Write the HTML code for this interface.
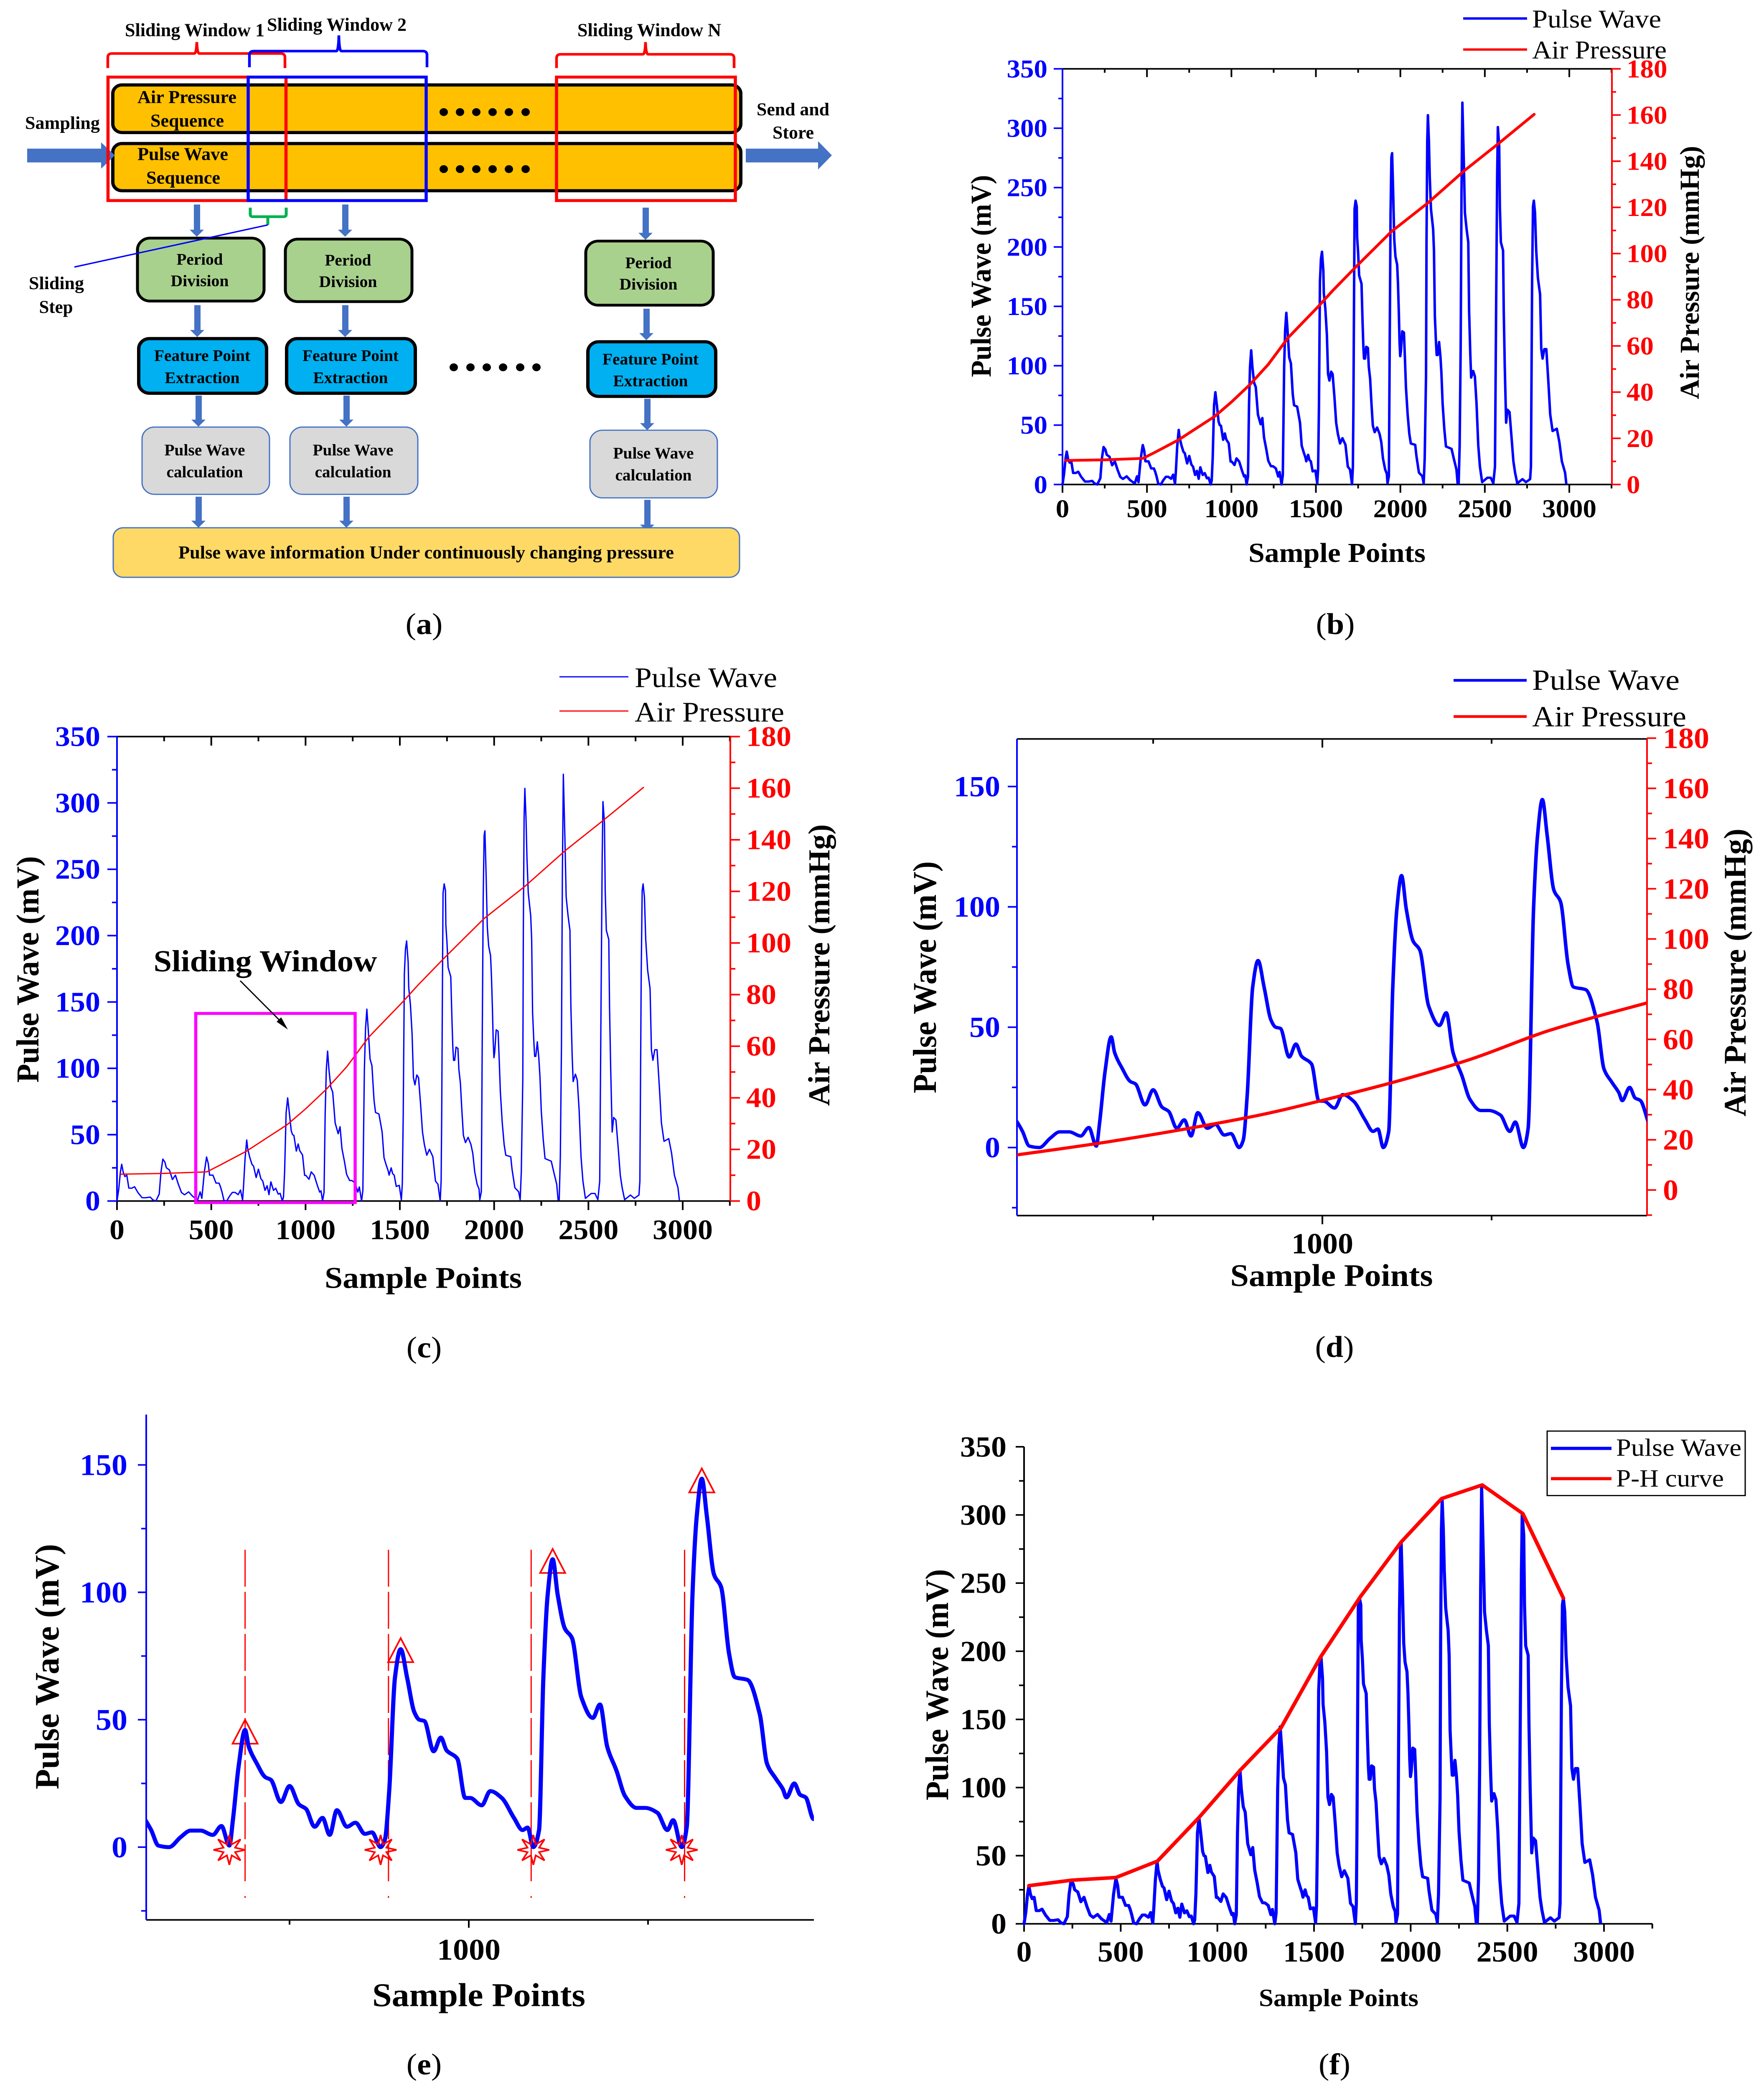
<!DOCTYPE html>
<html lang="en">
<head>
<meta charset="utf-8">
<title>Pulse wave sliding window figure</title>
<style>
html,body{margin:0;padding:0;background:#fff;width:100%;height:100%;overflow:hidden;}
svg{display:block;position:absolute;left:0;top:0;width:100vw;height:100vh;overflow:hidden;}
text{font-family:"Liberation Serif","Times New Roman",serif;}
.b{font-weight:bold;}
.t{font-weight:bold;fill:#000;}
</style>
</head>
<body>
<svg id="figure" xmlns="http://www.w3.org/2000/svg" width="4222" height="5312" viewBox="0 0 4222 5312" preserveAspectRatio="none">
<rect x="0" y="0" width="4222" height="5312" fill="#fff"/>
<defs>
<clipPath id="clip-d"><rect x="2434" y="1879" width="1508" height="1212"/></clipPath>
<clipPath id="clip-e"><rect x="350" y="3597" width="1598" height="1285"/></clipPath>
</defs>

<!-- PANEL A -->
<g id="panel-a">
  <text class="t" x="299" y="92" font-size="47" textLength="334" lengthAdjust="spacingAndGlyphs">Sliding Window 1</text>
  <text class="t" x="639" y="78" font-size="47" textLength="334" lengthAdjust="spacingAndGlyphs">Sliding Window 2</text>
  <text class="t" x="1382" y="92" font-size="47" textLength="344" lengthAdjust="spacingAndGlyphs">Sliding Window N</text>
  <path d="M258 173V146Q258 136 268 136H465Q470 136 471 107Q472 136 477 136H672Q682 136 682 146V173" fill="none" stroke="#f00" stroke-width="6.5"/>
  <path d="M597 171V140Q597 130 607 130H805Q810 130 811 90Q812 130 817 130H1012Q1022 130 1022 140V171" fill="none" stroke="#00f" stroke-width="6.5"/>
  <path d="M1332 173V148Q1332 138 1342 138H1539Q1544 138 1545 107Q1546 138 1551 138H1747Q1757 138 1757 148V173" fill="none" stroke="#f00" stroke-width="6.5"/>

  <rect x="270" y="216" width="1503" height="121" rx="22" fill="#FFC000" stroke="#000" stroke-width="8"/>
  <rect x="270" y="365" width="1503" height="120" rx="22" fill="#FFC000" stroke="#000" stroke-width="8"/>
  <text class="t" x="329" y="262" font-size="46" textLength="237" lengthAdjust="spacingAndGlyphs">Air Pressure</text>
  <text class="t" x="360" y="322" font-size="46" textLength="176" lengthAdjust="spacingAndGlyphs">Sequence</text>
  <text class="t" x="329" y="407" font-size="46" textLength="217" lengthAdjust="spacingAndGlyphs">Pulse Wave</text>
  <text class="t" x="350" y="467" font-size="46" textLength="177" lengthAdjust="spacingAndGlyphs">Sequence</text>

  <g fill="#000">
    <circle cx="1062" cy="285" r="10"/><circle cx="1101" cy="285" r="10"/><circle cx="1140" cy="285" r="10"/><circle cx="1179" cy="285" r="10"/><circle cx="1218" cy="285" r="10"/><circle cx="1258" cy="285" r="10"/>
  </g>
  <g fill="#000">
    <circle cx="1062" cy="430" r="10"/><circle cx="1101" cy="430" r="10"/><circle cx="1140" cy="430" r="10"/><circle cx="1179" cy="430" r="10"/><circle cx="1218" cy="430" r="10"/><circle cx="1258" cy="430" r="10"/>
  </g>
  <g fill="#000">
    <circle cx="1086" cy="934" r="10"/><circle cx="1126" cy="934" r="10"/><circle cx="1165" cy="934" r="10"/><circle cx="1204" cy="934" r="10"/><circle cx="1245" cy="934" r="10"/><circle cx="1284" cy="934" r="10"/>
  </g>

  <text class="t" x="60" y="328" font-size="46" textLength="179" lengthAdjust="spacingAndGlyphs">Sampling</text>
  <path d="M65 378H242V362L275 395L242 429V413H65Z" fill="#4472C4"/>
  <text class="t" x="1811" y="293" font-size="46" textLength="174" lengthAdjust="spacingAndGlyphs">Send and</text>
  <text class="t" x="1849" y="352" font-size="46" textLength="99" lengthAdjust="spacingAndGlyphs">Store</text>
  <path d="M1785 378H1958V359L1991 395L1958 431V413H1785Z" fill="#4472C4"/>

  <g fill="#4472C4">
    <path d="M464 520H479V584H488L471 602L454 584H464Z"/>
    <path d="M819 520H834V584H843L826 602L809 584H819Z"/>
    <path d="M1538 528H1553V592H1562L1545 610L1528 592H1538Z"/>
    <path d="M465 776H480V839H489L472 857L455 839H465Z"/>
    <path d="M819 776H834V839H843L826 857L809 839H819Z"/>
    <path d="M1540 785H1555V847H1564L1547 865L1530 847H1540Z"/>
    <path d="M468 1006H483V1067H492L475 1085L458 1067H468Z"/>
    <path d="M822 1006H837V1067H846L829 1085L812 1067H822Z"/>
    <path d="M1542 1014H1557V1076H1566L1549 1094L1532 1076H1542Z"/>
    <path d="M468 1263H483V1324H492L475 1342L458 1324H468Z"/>
    <path d="M822 1263H837V1324H846L829 1342L812 1324H822Z"/>
    <path d="M1542 1271H1557V1334H1566L1549 1352L1532 1334H1542Z"/>
  </g>

  <rect x="258.5" y="196" width="426" height="314" fill="none" stroke="#f00" stroke-width="7.5"/>
  <rect x="594" y="196" width="426" height="314" fill="none" stroke="#00f" stroke-width="7.5"/>
  <rect x="1332" y="196" width="428" height="314" fill="none" stroke="#f00" stroke-width="7.5"/>

  <path d="M599 528V545Q599 551 605 551H679Q685 551 685 545V528M641 551V572" fill="none" stroke="#00B050" stroke-width="7"/>

  <g>
    <rect x="329" y="605.5" width="303" height="160" rx="30" fill="#A9D18E" stroke="#000" stroke-width="7"/>
    <text class="t" text-anchor="middle" x="478" y="673" font-size="42" textLength="111" lengthAdjust="spacingAndGlyphs">Period</text>
    <text class="t" text-anchor="middle" x="478" y="728" font-size="42" textLength="139" lengthAdjust="spacingAndGlyphs">Division</text>
  </g>
  <g>
    <rect x="683" y="608" width="303" height="159" rx="30" fill="#A9D18E" stroke="#000" stroke-width="7"/>
    <text class="t" text-anchor="middle" x="833" y="675" font-size="42" textLength="111" lengthAdjust="spacingAndGlyphs">Period</text>
    <text class="t" text-anchor="middle" x="833" y="730" font-size="42" textLength="139" lengthAdjust="spacingAndGlyphs">Division</text>
  </g>
  <g>
    <rect x="1402" y="613" width="305" height="163" rx="30" fill="#A9D18E" stroke="#000" stroke-width="7"/>
    <text class="t" text-anchor="middle" x="1552" y="682" font-size="42" textLength="111" lengthAdjust="spacingAndGlyphs">Period</text>
    <text class="t" text-anchor="middle" x="1552" y="736" font-size="42" textLength="139" lengthAdjust="spacingAndGlyphs">Division</text>
  </g>

  <line x1="641" y1="572" x2="178" y2="679" stroke="#00f" stroke-width="3.5"/>
  <text class="t" text-anchor="middle" x="135" y="735" font-size="46" textLength="132" lengthAdjust="spacingAndGlyphs">Sliding</text>
  <text class="t" text-anchor="middle" x="134" y="796" font-size="46" textLength="81" lengthAdjust="spacingAndGlyphs">Step</text>

  <g>
    <rect x="332" y="861" width="306" height="139" rx="26" fill="#00B0F0" stroke="#000" stroke-width="8"/>
    <text class="t" text-anchor="middle" x="484" y="918" font-size="42" textLength="230" lengthAdjust="spacingAndGlyphs">Feature Point</text>
    <text class="t" text-anchor="middle" x="484" y="974" font-size="42" textLength="179" lengthAdjust="spacingAndGlyphs">Extraction</text>
  </g>
  <g>
    <rect x="686" y="861" width="308" height="139" rx="26" fill="#00B0F0" stroke="#000" stroke-width="8"/>
    <text class="t" text-anchor="middle" x="839" y="918" font-size="42" textLength="230" lengthAdjust="spacingAndGlyphs">Feature Point</text>
    <text class="t" text-anchor="middle" x="839" y="974" font-size="42" textLength="179" lengthAdjust="spacingAndGlyphs">Extraction</text>
  </g>
  <g>
    <rect x="1407" y="869" width="306" height="139" rx="26" fill="#00B0F0" stroke="#000" stroke-width="8"/>
    <text class="t" text-anchor="middle" x="1557" y="927" font-size="42" textLength="230" lengthAdjust="spacingAndGlyphs">Feature Point</text>
    <text class="t" text-anchor="middle" x="1557" y="982" font-size="42" textLength="179" lengthAdjust="spacingAndGlyphs">Extraction</text>
  </g>

  <g>
    <rect x="340" y="1086" width="305" height="171" rx="30" fill="#D9D9D9" stroke="#4472C4" stroke-width="3"/>
    <text class="t" text-anchor="middle" x="490" y="1158" font-size="42" textLength="193" lengthAdjust="spacingAndGlyphs">Pulse Wave</text>
    <text class="t" text-anchor="middle" x="490" y="1214" font-size="42" textLength="183" lengthAdjust="spacingAndGlyphs">calculation</text>
  </g>
  <g>
    <rect x="694" y="1086" width="306" height="171" rx="30" fill="#D9D9D9" stroke="#4472C4" stroke-width="3"/>
    <text class="t" text-anchor="middle" x="845" y="1158" font-size="42" textLength="193" lengthAdjust="spacingAndGlyphs">Pulse Wave</text>
    <text class="t" text-anchor="middle" x="845" y="1214" font-size="42" textLength="183" lengthAdjust="spacingAndGlyphs">calculation</text>
  </g>
  <g>
    <rect x="1412" y="1094" width="305" height="172" rx="30" fill="#D9D9D9" stroke="#4472C4" stroke-width="3"/>
    <text class="t" text-anchor="middle" x="1564" y="1166" font-size="42" textLength="193" lengthAdjust="spacingAndGlyphs">Pulse Wave</text>
    <text class="t" text-anchor="middle" x="1564" y="1222" font-size="42" textLength="183" lengthAdjust="spacingAndGlyphs">calculation</text>
  </g>

  <g>
    <rect x="271" y="1342" width="1499" height="126" rx="24" fill="#FFD966" stroke="#4472C4" stroke-width="3"/>
    <text class="t" text-anchor="middle" x="1020" y="1420" font-size="46" textLength="1186" lengthAdjust="spacingAndGlyphs">Pulse wave information Under continuously changing pressure</text>
  </g>
  <text text-anchor="middle" x="1015" y="1612" font-size="76">(<tspan class="b">a</tspan>)</text>
</g>

<!-- PANEL B -->
<g id="panel-b">
  <text class="t" transform="translate(2371 702) rotate(-90)" text-anchor="middle" font-size="69" textLength="514" lengthAdjust="spacingAndGlyphs">Pulse Wave (mV)</text>
  <text class="t" transform="translate(4066 693) rotate(-90)" text-anchor="middle" font-size="66" textLength="644" lengthAdjust="spacingAndGlyphs">Air Pressure (mmHg)</text>
  <text class="t" x="3200" y="1429" text-anchor="middle" font-size="70" textLength="424" lengthAdjust="spacingAndGlyphs">Sample Points</text>
  <line x1="3502" y1="47" x2="3655" y2="47" stroke="#00f" stroke-width="6"/>
  <text x="3667" y="70" font-size="65" textLength="309" lengthAdjust="spacingAndGlyphs">Pulse Wave</text>
  <line x1="3502" y1="126" x2="3655" y2="126" stroke="#f00" stroke-width="6"/>
  <text x="3667" y="149" font-size="65" textLength="322" lengthAdjust="spacingAndGlyphs">Air Pressure</text>
  <text text-anchor="middle" x="3196" y="1612" font-size="76">(<tspan class="b">b</tspan>)</text>
</g>

<!-- PANEL C -->
<g id="panel-c">
  <text class="t" transform="translate(92 2465) rotate(-90)" text-anchor="middle" font-size="76" textLength="576" lengthAdjust="spacingAndGlyphs">Pulse Wave (mV)</text>
  <text class="t" transform="translate(1985 2454) rotate(-90)" text-anchor="middle" font-size="73" textLength="716" lengthAdjust="spacingAndGlyphs">Air Pressure (mmHg)</text>
  <text class="t" x="1013" y="3275" text-anchor="middle" font-size="77" textLength="472" lengthAdjust="spacingAndGlyphs">Sample Points</text>
  <line x1="1339" y1="1721" x2="1504" y2="1721" stroke="#00f" stroke-width="3"/>
  <text x="1519" y="1747" font-size="72" textLength="341" lengthAdjust="spacingAndGlyphs">Pulse Wave</text>
  <line x1="1339" y1="1808" x2="1504" y2="1808" stroke="#f00" stroke-width="3"/>
  <text x="1519" y="1835" font-size="72" textLength="358" lengthAdjust="spacingAndGlyphs">Air Pressure</text>
  <text text-anchor="middle" x="1015" y="3452" font-size="76">(<tspan class="b">c</tspan>)</text>
</g>

<!-- PANEL D -->
<g id="panel-d">
  <text class="t" transform="translate(2240 2485) rotate(-90)" text-anchor="middle" font-size="79" textLength="590" lengthAdjust="spacingAndGlyphs">Pulse Wave (mV)</text>
  <text class="t" transform="translate(4178 2473) rotate(-90)" text-anchor="middle" font-size="75" textLength="732" lengthAdjust="spacingAndGlyphs">Air Pressure (mmHg)</text>
  <text class="t" x="3187" y="3270" text-anchor="middle" font-size="80" textLength="485" lengthAdjust="spacingAndGlyphs">Sample Points</text>
  <line x1="3479" y1="1730" x2="3654" y2="1730" stroke="#00f" stroke-width="7"/>
  <text x="3667" y="1754" font-size="74" textLength="353" lengthAdjust="spacingAndGlyphs">Pulse Wave</text>
  <line x1="3479" y1="1822" x2="3654" y2="1822" stroke="#f00" stroke-width="7"/>
  <text x="3667" y="1847" font-size="74" textLength="369" lengthAdjust="spacingAndGlyphs">Air Pressure</text>
  <text text-anchor="middle" x="3194" y="3450" font-size="76">(<tspan class="b">d</tspan>)</text>
</g>

<!-- PANEL E -->
<g id="panel-e">
  <text class="t" transform="translate(140 4238) rotate(-90)" text-anchor="middle" font-size="82" textLength="624" lengthAdjust="spacingAndGlyphs">Pulse Wave (mV)</text>
  <text class="t" x="1146" y="5101" text-anchor="middle" font-size="84" textLength="510" lengthAdjust="spacingAndGlyphs">Sample Points</text>
  <text text-anchor="middle" x="1015" y="5275" font-size="76">(<tspan class="b">e</tspan>)</text>
</g>

<!-- PANEL F -->
<g id="panel-f">
  <text class="t" transform="translate(2269 4284) rotate(-90)" text-anchor="middle" font-size="78" textLength="588" lengthAdjust="spacingAndGlyphs">Pulse Wave (mV)</text>
  <text class="t" x="3204" y="5101" text-anchor="middle" font-size="63" textLength="382" lengthAdjust="spacingAndGlyphs">Sample Points</text>
  <rect x="3703" y="3639" width="474" height="164" fill="#fff" stroke="#000" stroke-width="3"/>
  <line x1="3712" y1="3683" x2="3857" y2="3683" stroke="#00f" stroke-width="8"/>
  <text x="3868" y="3702" font-size="63" textLength="300" lengthAdjust="spacingAndGlyphs">Pulse Wave</text>
  <line x1="3712" y1="3760" x2="3857" y2="3760" stroke="#f00" stroke-width="8"/>
  <text x="3868" y="3780" font-size="63" textLength="258" lengthAdjust="spacingAndGlyphs">P-H curve</text>
  <text text-anchor="middle" x="3194" y="5275" font-size="76">(<tspan class="b">f</tspan>)</text>
</g>
</svg>

<script>
// ---- data ----
const pulseSamples = [
0,9,18,25,33,42,52,63,79,93,111,133,154,176,190,206,213,224,233,243,254,262,278,294,310,326,342,358,380,401,428,441,450,463,475,484,491,509,525,541,
549,557,567,582,598,612,626,643,655,666,671,679,688,693,704,716,724,738,750,763,773,785,796,806,816,830,842,855,865,877,883,889,
897,905,914,924,931,938,951,961,969,984,995,1002,1018,1030,1046,1063,1075,1082,1090,1098,
1104,1110,1117,1124,1134,1144,1157,1173,1183,1193,1206,1218,1234,1246,1263,1277,1285,1297,1304,
1312,1318,1325,1332,1342,1352,1363,1371,1389,1406,1416,1428,1438,1443,1454,1462,1470,1481,1497,1508,
1513,1518,1524,1530,1536,1544,1547,1556,1565,1572,1580,1590,1599,1610,1620,1630,1643,1657,1675,1689,1702,1714,
1719,1722,1726,1729,1735,1742,1744,1750,1756,1770,1776,1781,1785,1791,1798,1808,1813,1821,1829,1837,1848,1862,1877,1887,1897,1910,1920,1924,1932,
1937,1942,1947,1951,1957,1964,1971,1981,1986,1991,1995,1999,2003,2011,2021,2027,2033,2043,2053,2062,2088,2095,2110,2130,2138,
2144,2152,2155,2159,2163,2169,2174,2181,2194,2199,2204,2211,2215,2221,2229,2237,2243,2250,2260,2270,2303,2316,2332,2339,2345,
2351,2357,2362,2367,2375,2382,2392,2402,2407,2414,2419,2431,2441,2451,2461,2471,2484,2515,2535,2550,
2560,2567,2573,2577,2585,2589,2595,2608,2612,2618,2626,2634,2646,2659,2669,2679,2692,2723,2743,2768,
2773,2780,2785,2790,2797,2804,2814,2827,2834,2842,2852,2864,2877,2887,2901,2926,2941,2956,2975,2982];
const pulseValues = [
0,8.6,21.7,27.7,21.7,18.4,19.5,9.7,9.7,10.8,6.4,2.5,2.5,3,0.9,0,2,5.3,21.7,31.6,29.4,25,23.4,16.2,19.5,12.4,6.4,4.7,6.9,3.6,0.9,6.9,2,21.7,33.2,28.3,19.5,19.5,13.5,13.5,
10.6,6.7,0.6,0,3.9,6.5,6.5,4.8,8.3,0.6,10.6,31.8,46,39.5,33,27.5,26.4,17.7,24,16.8,15,8,11.5,4.8,14.5,8,9.6,5.2,5.8,0,3,22,
66.5,77.7,66.5,53,50,49.5,37.6,43,38,34.7,19.3,19.3,16.4,22,19.3,11.5,6.7,7.7,0,6.7,
66.5,99,113,99,85.8,82,58.8,50.7,56,39.5,30,20,15.4,15.4,13.5,6.7,10.6,0,8,
99,130,144.6,130,107,102,76,66.7,65.6,52,32.7,27,22.8,19.5,25,20.6,19.5,11,11.8,0.9,
13,65,171,190,196,180,161,148,126,93,87.5,95,93,73,52,42.6,34.5,39,33.4,15,12.6,0.1,
15,65,165,232,239,234,208,195,176,169,138,116,106,106,116,115,99,89,68,49.5,44,48,42.6,35.7,22,12.6,9,1,7,
121,228,275.5,279,248,206,192,185,169,145,121,108,112,129,128,106,82,59,42.6,34.5,33.4,24,10,7,1,
22,92,206,289,311,289,259,232,215,197,142,119,109,109,120,108,94,68,47,32,30,22,12.6,1,1,
33,116,245.5,321.6,275.5,229,215,204,146,109,90,95.6,91,68,33,15,2,5.7,5.7,1,
15,151,259,301,285,234,204,197,146,100,52,63,61,38,19.5,10,1,4.5,2,4.5,
15,172,234,239,229,197,174,160,114,106,114,114,84,59,45,47,36,19.5,10,1];

const pressureSamples = [19,252,476,549,686,901,1000,1110,1218,1336,1513,1595,1744,1947,2164,2377,2580,2792];
const pressureValues = [10.4,10.7,11.3,14,19.3,29.5,35.7,43.3,52,63.6,77,83.6,94.8,109.5,122,135.8,147.6,160.3];

const phSamples = [25,245,475,690,905,1120,1330,1535,1740,1950,2160,2370,2580,2790];
const phValues = [28,32,34,46,78,113,144,196,240,280,312,322,301,239];

const peakSamples = [688,905,1117,1325];
const peakValues = [46,78,113,144.6];
const valleySamples = [666,877,1090,1297];
const valleyValues = [0,0,0,0];
const periodMarkSamples = [688,888,1087,1301];

const xTickLabels = ['0','500','1000','1500','2000','2500','3000'];
const pulseTickLabels = ['0','50','100','150','200','250','300','350'];
const pressureTickLabels = ['0','20','40','60','80','100','120','140','160','180'];
const zoomXTickLabels = ['1000'];
const zoomPulseTickLabels = ['0','50','100','150'];

// ---- helpers ----
const NS = 'http://www.w3.org/2000/svg';
function scale(d0, d1, p0, p1) { return v => p0 + (v - d0) * (p1 - p0) / (d1 - d0); }
function svgEl(parent, tag) {
  const el = document.createElementNS(NS, tag);
  parent.appendChild(el);
  return el;
}
function ticksBetween(start, end, step) {
  const out = [];
  for (let v = start; v <= end + 1e-6; v += step) out.push(v);
  return out;
}
function drawLine(parent, x1, y1, x2, y2, color, w) {
  const l = svgEl(parent, 'line');
  
  
  l.setAttribute('x1', x1); l.setAttribute('y1', y1);
  l.setAttribute('x2', x2); l.setAttribute('y2', y2);
  l.setAttribute('stroke', color); l.setAttribute('stroke-width', w);
  return l;
}
// monotone cubic path through pixel points (no overshoot)
function smoothPath(pts) {
  const n = pts.length, d = [], m = [];
  for (let i = 0; i < n - 1; i++) d.push((pts[i + 1][1] - pts[i][1]) / (pts[i + 1][0] - pts[i][0]));
  m[0] = d[0]; m[n - 1] = d[n - 2];
  for (let i = 1; i < n - 1; i++) m[i] = d[i - 1] * d[i] <= 0 ? 0 : 2 * d[i - 1] * d[i] / (d[i - 1] + d[i]);
  let s = 'M' + pts[0][0].toFixed(1) + ' ' + pts[0][1].toFixed(1);
  for (let i = 0; i < n - 1; i++) {
    const h = (pts[i + 1][0] - pts[i][0]) / 3;
    s += 'C' + (pts[i][0] + h).toFixed(1) + ' ' + (pts[i][1] + m[i] * h).toFixed(1) + ' ' +
         (pts[i + 1][0] - h).toFixed(1) + ' ' + (pts[i + 1][1] - m[i + 1] * h).toFixed(1) + ' ' +
         pts[i + 1][0].toFixed(1) + ' ' + pts[i + 1][1].toFixed(1);
  }
  return s;
}
function drawSeries(parent, xs, ys, sx, sy, color, w, clipId, lo, hi) {
  let pts = xs.map((s, i) => [sx(s), sy(ys[i])]);
  if (lo !== undefined) {
    let a = 0, b = pts.length - 1;
    while (a < b && pts[a + 1][0] < lo) a++;
    while (b > a && pts[b - 1][0] > hi) b--;
    pts = pts.slice(a, b + 1);
  }
  const p = svgEl(parent, 'path');
  p.setAttribute('d', clipId ? smoothPath(pts) : 'M' + pts.map(q => q[0].toFixed(1) + ' ' + q[1].toFixed(1)).join('L'));
  p.setAttribute('fill', 'none');
  p.setAttribute('stroke', color);
  p.setAttribute('stroke-width', w);
  p.setAttribute('stroke-linejoin', 'round');
  p.setAttribute('stroke-linecap', 'round');
  if (clipId) p.setAttribute('clip-path', 'url(#' + clipId + ')');
  return p;
}
function label(parent, x, y, str, size, color, anchor) {
  const t = svgEl(parent, 'text');
  t.setAttribute('x', x); t.setAttribute('y', y);
  t.setAttribute('font-size', size);
  t.setAttribute('font-weight', 'bold');
  t.setAttribute('fill', color);
  t.setAttribute('text-anchor', anchor);
  t.textContent = str;
  return t;
}
function drawAxes(g, c) {
  const ax = svgEl(g, 'g');
  
  
  drawLine(ax, c.L, c.B, c.R, c.B, '#000', c.aw);
  if (c.top) drawLine(ax, c.L, c.T, c.R, c.T, '#000', c.aw);
  ticksBetween(c.xStart, c.xEnd, c.xMinorStep).forEach(v => {
    const x = c.sx(v);
    const major = Math.abs(v / c.xMajorStep - Math.round(v / c.xMajorStep)) < 1e-6;
    const len = major ? c.maj : c.min;
    drawLine(ax, x, c.B, x, c.B + len, '#000', c.tw);
    if (c.top) drawLine(ax, x, c.T, x, c.T + len, '#000', c.tw);
  });
  c.xLabels.forEach(s => {
    const t = label(ax, c.sx(Number(s)), c.xLabelY, s, c.fs, '#000', 'middle');
    
    
  });
  drawLine(ax, c.L, c.T, c.L, c.B, c.leftColor, c.aw);
  ticksBetween(c.yStart, c.yEnd, 25).forEach(v => {
    const major = Math.abs(v / 50 - Math.round(v / 50)) < 1e-6;
    drawLine(ax, c.L, c.sy(v), c.L - (major ? c.maj : c.min), c.sy(v), c.leftColor, c.tw);
  });
  c.yLabels.forEach(s => {
    const t = label(ax, c.yLabelX, c.sy(Number(s)) + c.dy, s, c.fs, c.leftColor, 'end');
    
    
  });
  if (c.syR) {
    drawLine(ax, c.R, c.T, c.R, c.B, '#f00', c.aw);
    ticksBetween(c.rStart, 180, 10).forEach(v => {
      const major = Math.abs(v / 20 - Math.round(v / 20)) < 1e-6;
      drawLine(ax, c.R, c.syR(v), c.R + (major ? c.maj : c.min), c.syR(v), '#f00', c.tw);
    });
    pressureTickLabels.forEach(s => {
      const t = label(ax, c.rLabelX, c.syR(Number(s)) + c.dy, s, c.fs, '#f00', 'start');
      
      
    });
  }
}

// ---- panel b ----
const gb = document.getElementById('panel-b');
const bx = scale(0, 3000, 2543, 3756), by = scale(0, 350, 1232, 175), byR = scale(0, 180, 1232, 175);
drawAxes(gb, {L:2543,R:3858,T:175,B:1232,top:true,sx:bx,sy:by,syR:byR,aw:4,tw:4,maj:21,min:10,fs:65,
  xStart:0,xEnd:3250,xMajorStep:500,xMinorStep:250,xLabels:xTickLabels,xLabelY:1315,
  yStart:0,yEnd:350,yLabels:pulseTickLabels,yLabelX:2507,dy:22,leftColor:'#00f',rStart:0,rLabelX:3893});
const bPulse = drawSeries(gb, pulseSamples, pulseValues, bx, by, '#00f', 6);


const bAir = drawSeries(gb, pressureSamples, pressureValues, bx, byR, '#f00', 7);



// ---- panel c ----
const gc = document.getElementById('panel-c');
const cx = scale(0, 3000, 280, 1634), cy = scale(0, 350, 3054, 1873), cyR = scale(0, 180, 3054, 1873);
drawAxes(gc, {L:280,R:1748,T:1873,B:3054,top:true,sx:cx,sy:cy,syR:cyR,aw:4,tw:4,maj:23,min:12,fs:72,
  xStart:0,xEnd:3250,xMajorStep:500,xMinorStep:250,xLabels:xTickLabels,xLabelY:3151,
  yStart:0,yEnd:350,yLabels:pulseTickLabels,yLabelX:240,dy:24,leftColor:'#00f',rStart:0,rLabelX:1786});
const cPulse = drawSeries(gc, pulseSamples, pulseValues, cx, cy, '#00f', 3.2);


const cAir = drawSeries(gc, pressureSamples, pressureValues, cx, cyR, '#f00', 3.2);


const win = svgEl(gc, 'rect');


win.setAttribute('x', 468.5); win.setAttribute('y', 2577);
win.setAttribute('width', 381.5); win.setAttribute('height', 481);
win.setAttribute('fill', 'none'); win.setAttribute('stroke', '#f0f'); win.setAttribute('stroke-width', 7.5);
const winText = label(gc, 635, 2470, 'Sliding Window', 78, '#000', 'middle');


winText.setAttribute('textLength', 535);
winText.setAttribute('lengthAdjust', 'spacingAndGlyphs');
const winLead = drawLine(gc, 575, 2494, 680, 2606, '#000', 3);

const winHead = svgEl(gc, 'polygon');


winHead.setAttribute('points', '689,2618 662,2598 673,2587');
winHead.setAttribute('fill', '#000');

// ---- panel d ----
const gd = document.getElementById('panel-d');
const dx = scale(1000, 1250, 3165, 3570), dy = scale(0, 150, 2918, 2000), dyR = scale(0, 180, 3026, 1877);
drawAxes(gd, {L:2434,R:3942,T:1879,B:3091,top:true,sx:dx,sy:dy,syR:dyR,aw:4,tw:4,maj:22,min:12,fs:74,
  xStart:750,xEnd:1250,xMajorStep:500,xMinorStep:250,xLabels:zoomXTickLabels,xLabelY:3187,
  yStart:-25,yEnd:150,yLabels:zoomPulseTickLabels,yLabelX:2394,dy:25,leftColor:'#00f',rStart:-10,rLabelX:3980});
const dPulse = drawSeries(gd, pulseSamples, pulseValues, dx, dy, '#00f', 8.5, 'clip-d', 2434, 3942);


const dAir = drawSeries(gd, pressureSamples, pressureValues, dx, dyR, '#f00', 8, 'clip-d', 2434, 3942);



// ---- panel e ----
const ge = document.getElementById('panel-e');
const ex = scale(1000, 1250, 1122, 1551), ey = scale(0, 150, 4697, 3725);
drawAxes(ge, {L:350,R:1948,T:3597,B:4882,top:false,sx:ex,sy:ey,aw:4,tw:4,maj:20,min:12,fs:76,
  xStart:750,xEnd:1250,xMajorStep:500,xMinorStep:250,xLabels:zoomXTickLabels,xLabelY:4983,
  yStart:-25,yEnd:150,yLabels:zoomPulseTickLabels,yLabelX:305,dy:26,leftColor:'#00f'});
periodMarkSamples.forEach(s => {
  const l = drawLine(ge, ex(s), ey(116.7), ex(s), ey(-13.4), '#f00', 3);
  
  l.setAttribute('stroke-dasharray', '94 13');
  const dot = drawLine(ge, ex(s), ey(-19.2), ex(s), ey(-19.9), '#f00', 3);
  
});
peakSamples.forEach((s, i) => {
  const cxp = ex(s), cyp = ey(peakValues[i]);
  const tri = svgEl(ge, 'polygon');
  
  
  tri.setAttribute('points', cxp + ',' + (cyp - 26) + ' ' + (cxp - 30) + ',' + (cyp + 35) + ' ' + (cxp + 30) + ',' + (cyp + 35));
  tri.setAttribute('fill', 'none');
  tri.setAttribute('stroke', '#f00');
  tri.setAttribute('stroke-width', 4);
});
const ePulse = drawSeries(ge, pulseSamples, pulseValues, ex, ey, '#00f', 10, 'clip-e', 350, 1948);


valleySamples.forEach((s, i) => {
  const cxv = ex(s), cyv = ey(valleyValues[i]) + 7, pts = [];
  for (let k = 0; k < 16; k++) {
    const r = k % 2 === 0 ? 38 : 15, a = Math.PI * k / 8;
    pts.push((cxv + r * Math.sin(a)).toFixed(1) + ',' + (cyv - r * Math.cos(a)).toFixed(1));
  }
  const star = svgEl(ge, 'polygon');
  
  
  star.setAttribute('points', pts.join(' '));
  star.setAttribute('fill', 'none');
  star.setAttribute('stroke', '#f00');
  star.setAttribute('stroke-width', 4);
});

// ---- panel f ----
const gf = document.getElementById('panel-f');
const fx = scale(0, 3000, 2451, 3839), fy = scale(0, 350, 4892, 3679);
drawAxes(gf, {L:2451,R:3955,T:3679,B:4892,top:false,sx:fx,sy:fy,aw:4,tw:4,maj:20,min:12,fs:74,
  xStart:0,xEnd:3250,xMajorStep:500,xMinorStep:250,xLabels:xTickLabels,xLabelY:4988,
  yStart:0,yEnd:350,yLabels:pulseTickLabels,yLabelX:2409,dy:25,leftColor:'#000'});
const fPulse = drawSeries(gf, pulseSamples, pulseValues, fx, fy, '#00f', 7.5);


const fPh = drawSeries(gf, phSamples, phValues, fx, fy, '#f00', 9);


</script>
</body>
</html>
